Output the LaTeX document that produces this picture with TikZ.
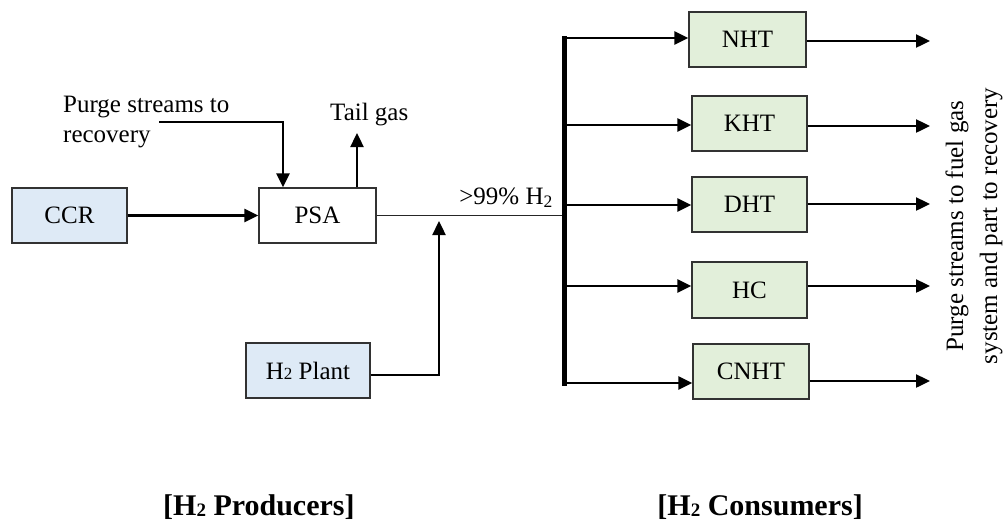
\documentclass[tikz,border=0pt]{standalone}
\usepackage{fontspec}
\setmainfont{Liberation Serif}
\usetikzlibrary{arrows.meta}
\definecolor{bluefill}{RGB}{222,234,246}
\definecolor{greenfill}{RGB}{226,239,218}
\definecolor{edge}{RGB}{50,50,50}
\begin{document}
\begin{tikzpicture}[x=1pt,y=-1pt,
  txt/.style={font=\fontsize{25}{30}\selectfont, inner sep=0pt},
  box/.style={draw=edge, line width=1.3pt, minimum height=55pt, inner sep=0pt, font=\fontsize{25}{30}\selectfont},
  bluebox/.style={box, fill=bluefill},
  whitebox/.style={box, fill=white},
  greenbox/.style={box, fill=greenfill, minimum width=115pt},
  arr/.style={line width=2.4pt, -{Triangle[length=14pt,width=13pt]}},
  thinline/.style={line width=1.1pt, draw=black!85},
  title/.style={font=\bfseries\fontsize{30}{36}\selectfont, inner sep=0pt}
]
\useasboundingbox (0,0) rectangle (1003,523);

% producers
\node[bluebox, minimum width=115pt] (ccr) at (69.5,215.5) {CCR};
\node[whitebox, minimum width=117pt] (psa) at (317.5,215.5) {PSA};
\node[bluebox, minimum width=124pt] (h2p) at (308,370.5) {H{\fontsize{17}{17}\selectfont 2} Plant};

% consumers
\node[greenbox, minimum width=117pt] (nht) at (747.5,39.5) {NHT};
\node[greenbox] (kht) at (749.5,123.5) {KHT};
\node[greenbox] (dht) at (749.5,204.5) {DHT};
\node[greenbox, minimum height=56pt] (hc) at (749.5,290) {HC};
\node[greenbox, minimum width=116pt] (cnht) at (751,371.5) {CNHT};

% text labels
\node[txt, anchor=base west] (purge1) at (63,112) {Purge streams to};
\node[txt, anchor=base west] (purge2) at (63,142) {recovery};
\node[txt, anchor=base west] (tail) at (330,120) {Tail gas};
\node[txt, anchor=base east] (pure) at (553,204) {>99\% H\textsubscript{2}};
\node[txt, rotate=90, align=center, font=\fontsize{25}{34}\selectfont] (purgeout) at (974,226) {Purge streams to fuel gas\\system and part to recovery};
\node[title, anchor=base west] (prod) at (163,515) {[H\raisebox{-1.5pt}{\fontsize{19}{19}\selectfont 2} Producers]};
\node[title, anchor=base east] (cons) at (863,515) {[H\raisebox{-1.5pt}{\fontsize{19}{19}\selectfont 2} Consumers]};

% connectors on the producer side
\draw[arr] (ccr) -- (psa);
\coordinate (pg) at (159,122);
\draw[arr] (pg) -| ([xshift=-34.5pt]psa.north);
\coordinate (tg) at (357,133);
\draw[arr] ([xshift=39.5pt]psa.north) -- (tg);
\coordinate (bustop) at (564,36);
\coordinate (busbot) at (564,385.5);
\draw[thinline] (psa.east) -- (psa.east -| bustop);
\coordinate (h2up) at (439,221);
\draw[arr] ([yshift=-4.5pt]h2p.east) -| (h2up);

% header bus
\draw[line width=5pt] (bustop) -- (busbot);

% branches
\coordinate (b1) at (564,38);
\coordinate (b2) at (564,125);
\coordinate (b3) at (564,205);
\coordinate (b4) at (564,286);
\coordinate (b5) at (564,383);
\draw[arr] (b1) -- (b1 -| nht.west);
\draw[arr] (b2) -- (b2 -| kht.west);
\draw[arr] (b3) -- (b3 -| dht.west);
\draw[arr] (b4) -- (b4 -| hc.west);
\draw[arr] (b5) -- (b5 -| cnht.west);

% outputs
\coordinate (o1) at (930,41);
\coordinate (o2) at (930,126);
\coordinate (o3) at (930,204);
\coordinate (o4) at (930,286);
\coordinate (o5) at (930,381);
\draw[arr] (o1 -| nht.east) -- (o1);
\draw[arr] (o2 -| kht.east) -- (o2);
\draw[arr] (o3 -| dht.east) -- (o3);
\draw[arr] (o4 -| hc.east) -- (o4);
\draw[arr] (o5 -| cnht.east) -- (o5);
\end{tikzpicture}
\end{document}
